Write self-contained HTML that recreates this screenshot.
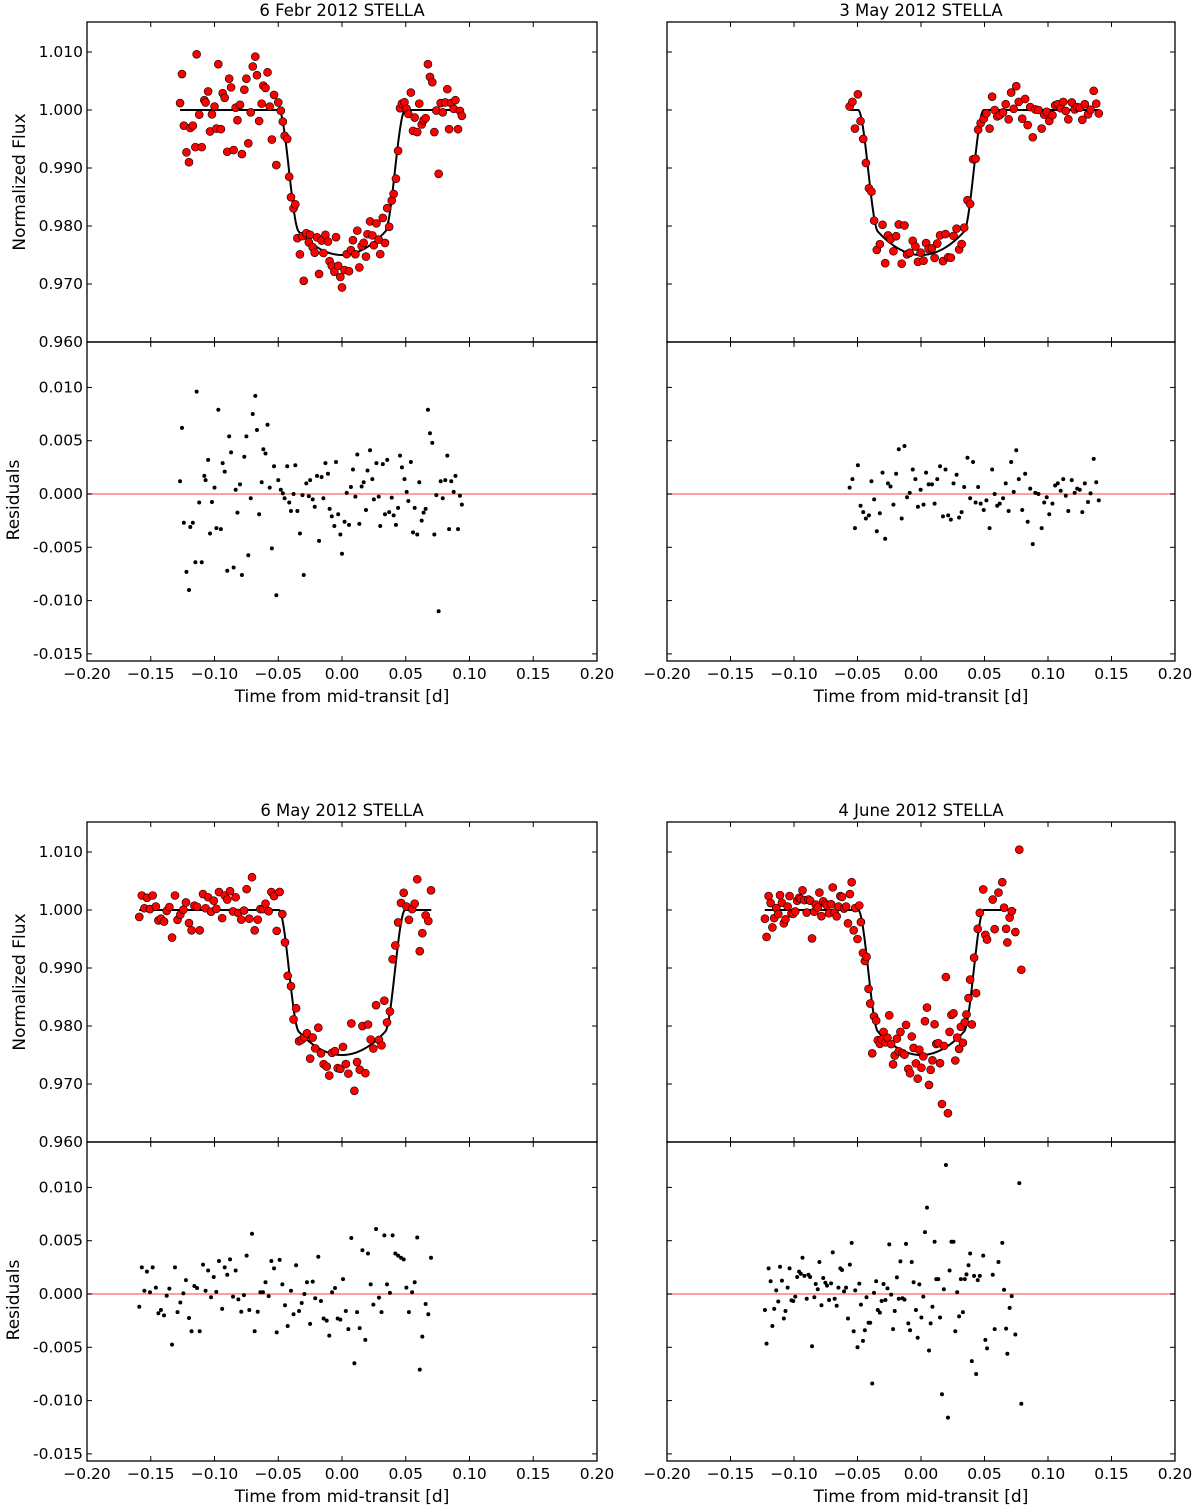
<!DOCTYPE html>
<html><head><meta charset="utf-8">
<style>
html,body{margin:0;padding:0;background:#fff;}
svg{display:block;font-family:"DejaVu Sans","Liberation Sans",sans-serif;}
</style></head>
<body>
<svg id="fig" width="1200" height="1509" viewBox="0 0 1200 1509" xmlns="http://www.w3.org/2000/svg"></svg>
<script>
// ---- data (time [d], residual in units of 0.001) ----
const titles = ["6 Febr 2012 STELLA","3 May 2012 STELLA","6 May 2012 STELLA","4 June 2012 STELLA"];
const xTicks = [-0.20,-0.15,-0.10,-0.05,0.00,0.05,0.10,0.15,0.20];
const xTickLabels = ["\u22120.20","\u22120.15","\u22120.10","\u22120.05","0.00","0.05","0.10","0.15","0.20"];
const fluxTicks = [1.010,1.000,0.990,0.980,0.970,0.960];
const fluxTickLabels = ["1.010","1.000","0.990","0.980","0.970","0.960"];
const resTicks = [0.010,0.005,0.000,-0.005,-0.010,-0.015];
const resTickLabels = ["0.010","0.005","0.000","-0.005","-0.010","-0.015"];

const tA = [-0.127,-0.1255,-0.124,-0.122,-0.120,-0.119,-0.117,-0.115,-0.114,-0.112,-0.110,-0.108,-0.107,-0.105,-0.1035,-0.102,-0.100,-0.0985,-0.097,-0.095,-0.0936,-0.092,-0.090,-0.0885,-0.087,-0.085,-0.0834,-0.082,-0.080,-0.0785,-0.0766,-0.075,-0.0735,-0.0716,-0.070,-0.068,-0.0667,-0.065,-0.063,-0.0617,-0.060,-0.0584,-0.0567,-0.055,-0.0533,-0.0515,-0.050,-0.048,-0.0464,-0.045,-0.043,-0.0414,-0.040,-0.038,-0.0366,-0.035,-0.033,-0.031,-0.030,-0.028,-0.026,-0.025,-0.023,-0.0214,-0.0196,-0.018,-0.016,-0.0146,-0.013,-0.011,-0.0097,-0.008,-0.006,-0.0047,-0.003,-0.0013,0.000,0.002,0.0037,0.0055,0.007,0.0086,0.0105,0.012,0.0136,0.0154,0.017,0.0188,0.020,0.022,0.0238,0.025,0.027,0.0288,0.030,0.032,0.0337,0.0355,0.037,0.039,0.0405,0.0423,0.044,0.0455,0.047,0.049,0.0507,0.052,0.054,0.0557,0.057,0.059,0.0606,0.0625,0.064,0.0656,0.0674,0.069,0.0708,0.0724,0.074,0.0758,0.0774,0.079,0.081,0.0826,0.084,0.0857,0.0876,0.089,0.091,0.0925,0.094];
const rA = [1.2,6.2,-2.7,-7.3,-9.0,-3.1,-2.7,-6.4,9.6,-0.8,-6.4,1.7,1.3,3.2,-3.7,-0.75,0.6,-3.2,7.9,-3.3,2.9,2.1,-7.2,5.4,3.9,-6.9,0.4,-1.75,0.9,-7.6,3.5,5.4,-5.75,-0.4,7.5,9.2,6.0,-1.9,1.1,4.2,3.8,6.5,0.6,-5.1,2.6,-9.5,1.3,0.4,0.06,-0.4,2.6,-0.8,-1.6,0,2.7,-1.6,-3.7,-0.1,-7.6,1.0,-0.2,1.3,-0.5,-1.2,1.7,-4.4,1.6,-0.4,2.9,1.9,-1.4,-2.1,-3.0,3.0,-1.9,-3.8,-5.6,-2.6,0.1,-2.9,0.66,2.3,-0.25,3.7,-2.8,0.7,1.1,-1.5,2.2,4.1,1.4,-0.5,2.9,-0.25,-3.0,2.8,-1.9,3.2,-1.7,-0.34,-2.0,-2.9,-1.3,3.6,2.5,1.4,0.2,-0.66,3.0,-3.6,-1.3,-3.8,1.1,-2.5,-1.75,-1.4,7.9,5.7,4.8,-3.8,-0.1,-11.0,1.2,-0.4,1.3,3.6,-3.3,1.2,0.2,1.7,-3.3,-0.16,-1.0];

const tB = [-0.0562,-0.054,-0.052,-0.0497,-0.0476,-0.0455,-0.0434,-0.041,-0.039,-0.0369,-0.0348,-0.0324,-0.0303,-0.0282,-0.026,-0.024,-0.0217,-0.0196,-0.0175,-0.0152,-0.013,-0.011,-0.0089,-0.0065,-0.0044,-0.0024,-0.0003,0.002,0.004,0.006,0.0086,0.0107,0.0128,0.015,0.0173,0.0193,0.0214,0.0235,0.0256,0.028,0.030,0.032,0.034,0.0366,0.0387,0.041,0.043,0.045,0.047,0.0494,0.0515,0.054,0.056,0.058,0.060,0.062,0.0646,0.0667,0.069,0.071,0.073,0.075,0.077,0.0797,0.082,0.084,0.086,0.088,0.090,0.0925,0.095,0.097,0.099,0.101,0.1035,0.1056,0.1077,0.110,0.112,0.114,0.116,0.1187,0.121,0.123,0.125,0.127,0.129,0.1315,0.1335,0.136,0.138,0.140];
const rB = [0.6,1.4,-3.2,2.7,-1.1,-1.7,-2.3,-2.0,1.2,-0.5,-3.5,-1.8,2.0,-4.2,1.0,0.7,-1.0,1.9,4.2,-2.3,4.5,-0.3,0.1,2.3,1.4,-1.2,0.4,-1.0,2.0,0.9,0.9,-0.9,1.4,2.6,-2.1,2.3,-2.0,-2.4,1.0,1.8,-2.2,-1.7,0.66,3.4,-0.4,3.0,-0.8,0.66,-0.9,-1.5,-0.6,-3.2,2.3,0,-1.1,-0.9,-0.4,1.0,-1.6,3.0,0.2,4.1,1.4,-1.5,1.9,-2.6,0.5,-4.7,0.1,0,-3.2,-0.8,-0.3,-1.9,-0.9,0.8,1.0,0.3,1.4,-0.16,-1.6,1.3,0.1,0.5,0.4,-1.7,1.0,-0.75,0.06,3.3,1.1,-0.6];

const tC = [-0.159,-0.157,-0.155,-0.153,-0.1506,-0.1485,-0.146,-0.144,-0.142,-0.1396,-0.1375,-0.1354,-0.1333,-0.131,-0.129,-0.1268,-0.1244,-0.1224,-0.120,-0.118,-0.1158,-0.1137,-0.1116,-0.109,-0.107,-0.105,-0.1027,-0.1006,-0.0986,-0.0965,-0.094,-0.092,-0.090,-0.0878,-0.0855,-0.0834,-0.0813,-0.079,-0.0769,-0.0748,-0.0727,-0.0706,-0.0685,-0.0661,-0.064,-0.062,-0.060,-0.0575,-0.0554,-0.0533,-0.0512,-0.0489,-0.0468,-0.0447,-0.0426,-0.040,-0.038,-0.036,-0.0337,-0.0316,-0.0295,-0.0275,-0.025,-0.023,-0.021,-0.0186,-0.0165,-0.0144,-0.012,-0.010,-0.0078,-0.0055,-0.0034,-0.0013,0.0008,0.003,0.005,0.0073,0.0097,0.0118,0.0139,0.016,0.0183,0.0204,0.0225,0.0246,0.0267,0.029,0.031,0.0332,0.0353,0.0376,0.0397,0.0418,0.044,0.0463,0.0484,0.0505,0.0525,0.055,0.057,0.059,0.061,0.063,0.0656,0.0677,0.0698];
const rC = [-1.2,2.5,0.3,2.1,0.16,2.5,0.6,-1.8,-1.5,-2.0,-0.16,0.5,-4.75,2.5,-1.7,-0.8,0.06,1.3,-2.25,-3.5,0.75,0.56,-3.5,2.75,0.3,2.2,-0.3,1.6,0.2,3.1,-1.4,2.5,1.8,3.25,-0.25,2.2,-0.5,-1.66,-0.1,3.6,-1.5,5.65,-3.5,-1.66,0.16,0.16,1.1,-0.2,3.1,2.4,-3.6,3.2,0.9,-1.06,-3.0,0.3,-1.9,2.7,-1.6,-0.84,0,1.1,-2.8,1.16,-0.4,3.5,-0.66,-2.3,-2.5,-3.9,0.16,0.56,-2.3,-2.4,1.4,-1.6,-3.3,5.25,-6.5,-1.7,-3.2,4.1,-4.3,3.8,0.9,-1.0,6.1,-0.34,-1.7,5.5,0.9,0.1,5.5,3.8,3.6,3.4,3.25,0.6,-1.7,0.16,1.1,5.3,-7.1,-4.0,-0.94,-1.9,3.4];

const tD = [-0.1229,-0.1216,-0.120,-0.1184,-0.117,-0.1156,-0.114,-0.1124,-0.111,-0.1095,-0.108,-0.1067,-0.105,-0.1035,-0.102,-0.1006,-0.099,-0.0975,-0.096,-0.0946,-0.0933,-0.0918,-0.090,-0.0886,-0.0873,-0.0858,-0.084,-0.0829,-0.0813,-0.080,-0.0784,-0.077,-0.0753,-0.074,-0.0724,-0.0708,-0.0695,-0.068,-0.0664,-0.065,-0.0635,-0.0622,-0.0606,-0.059,-0.0575,-0.056,-0.0546,-0.053,-0.0518,-0.050,-0.0486,-0.0473,-0.0457,-0.0442,-0.0429,-0.0413,-0.040,-0.0384,-0.037,-0.0353,-0.034,-0.0324,-0.031,-0.0295,-0.028,-0.0264,-0.025,-0.0235,-0.022,-0.0207,-0.019,-0.0175,-0.0162,-0.0146,-0.013,-0.0118,-0.010,-0.0086,-0.0073,-0.0058,-0.004,-0.0026,-0.0013,0.0003,0.0018,0.0031,0.0047,0.0063,0.0076,0.009,0.0107,0.012,0.0136,0.015,0.0165,0.018,0.0196,0.0212,0.0225,0.024,0.0256,0.027,0.0285,0.030,0.0314,0.033,0.0345,0.0358,0.0374,0.0387,0.040,0.0418,0.0434,0.0447,0.0463,0.049,0.0507,0.052,0.0565,0.058,0.061,0.064,0.0654,0.067,0.068,0.0698,0.0714,0.0743,0.0774,0.079];
const rD = [-1.5,-4.65,2.4,1.2,-3.0,-1.4,0.34,-0.7,2.56,1.25,-2.3,-1.6,0.6,2.4,-0.6,-0.66,-0.25,1.6,2.1,1.9,3.4,1.7,-0.44,1.8,1.6,-4.9,-0.3,0.94,0.44,3.0,-1.06,1.5,1.06,0.78,-0.56,1.0,3.9,-0.44,-1.1,0.6,2.4,2.25,0.25,0.6,-2.3,2.75,4.8,-3.5,0.34,-5.0,0.97,-1.0,-4.4,-3.4,-0.3,-2.7,-2.7,-8.4,0.1,1.2,-1.5,-1.75,-0.66,0.94,-0.56,0.53,4.66,-0.06,-3.3,-1.6,1.56,-0.44,3.06,-0.4,-0.53,4.7,-2.75,-3.4,3.0,1.1,-1.5,-4.1,0.9,-2.2,-0.25,5.8,8.1,-5.3,-2.75,-1.2,4.9,1.4,1.4,-2.2,-9.4,0.44,12.1,-11.6,2.2,4.9,4.9,-3.5,0.16,-2.1,1.4,-1.7,1.4,1.84,2.7,3.8,-6.3,1.7,-7.5,1.3,1.7,3.6,-4.3,-5.1,1.8,-3.3,3.0,4.8,0.4,-3.25,-5.6,-1.3,-0.2,-3.8,10.4,-10.3];

const times = [tA,tB,tC,tD];
const resids = [rA,rB,rC,rD];
// model line extents (days)
const modelStart = [-0.127,-0.056,-0.159,-0.123];
const modelEnd = [0.094,0.140,0.070,0.075];

// ---- transit model ----
function model(t){
  const a=Math.abs(t), T2=0.034, T1=0.0495, k=3.5;
  const fb=0.975+k*T2*T2;
  if(a>=T1) return 1;
  if(a<=T2) return 0.975+k*a*a;
  const s=(a-T2)/(T1-T2);
  // blend: continuous slope at bottom, rounded top
  const slope=2*k*T2*(T1-T2);
  const h=3*s*s-2*s*s*s;
  const lin=s*(1-s)*(1-s)*slope;
  return fb+(1-fb)*h+lin;
}

// ---- layout ----
const NS="http://www.w3.org/2000/svg";
const svg=document.getElementById('fig');
function el(tag,attrs,parent){const e=document.createElementNS(NS,tag);for(const k in attrs)e.setAttribute(k,attrs[k]);(parent||svg).appendChild(e);return e;}
const panels=[{x0:87,x1:597,top:22,off:0,ylab:true},{x0:667,x1:1175,top:22,off:0,ylab:false},{x0:87,x1:597,top:822,off:800,ylab:true},{x0:667,x1:1175,top:822,off:800,ylab:false}];

panels.forEach((p,i)=>{
  const g=el('g',{});
  
  
  const mid=342+p.off, bot=661+p.off, top=p.top;
  const X=t=>p.x0+(t+0.2)/0.4*(p.x1-p.x0);
  const YF=f=>110+p.off-(f-1.0)*5800;
  const YR=r=>494+p.off-r*10660;
  const cid='clipT'+i, cid2='clipR'+i;
  const defs=el('defs',{},g);
  const c1=el('clipPath',{id:cid},defs); el('rect',{x:p.x0,y:top,width:p.x1-p.x0,height:mid-top},c1);
  const c2=el('clipPath',{id:cid2},defs); el('rect',{x:p.x0,y:mid,width:p.x1-p.x0,height:bot-mid},c2);

  const tt=el('text',{x:(p.x0+p.x1)/2,y:top-6,'text-anchor':'middle','font-size':'16.5'},g);
  tt.textContent=titles[i];
  
  

  const zl=el('line',{x1:p.x0,x2:p.x1,y1:YR(0),y2:YR(0),stroke:'#ff8080','stroke-width':1.5},g);
  
  

  const gm=el('g',{'clip-path':'url(#'+cid+')'},g);
  let d='';
  for(let k=0;k<=400;k++){const t=modelStart[i]+(modelEnd[i]-modelStart[i])*k/400;d+=(k?'L':'M')+X(t).toFixed(2)+' '+YF(model(t)).toFixed(2);}
  const ml=el('path',{d:d,fill:'none',stroke:'#000','stroke-width':2},gm);
  
  

  const gf=el('g',{'clip-path':'url(#'+cid+')'},g);
  
  
  const gr=el('g',{'clip-path':'url(#'+cid2+')'},g);
  
  
  times[i].forEach((t,k)=>{
    const r=resids[i][k]*0.001;
    const c=el('circle',{cx:X(t),cy:YF(model(t)+r),r:4,fill:'#ff0000',stroke:'#000','stroke-width':0.6},gf);
    
    
    const c2e=el('circle',{cx:X(t),cy:YR(r),r:2,fill:'#000'},gr);
    
    
  });

  const f1=el('rect',{x:p.x0,y:top,width:p.x1-p.x0,height:mid-top,fill:'none',stroke:'#000','stroke-width':1.3},g);
  
  
  const f2=el('rect',{x:p.x0,y:mid,width:p.x1-p.x0,height:bot-mid,fill:'none',stroke:'#000','stroke-width':1.3},g);
  
  

  xTicks.forEach((v,k)=>{
    const x=X(v);
    [[top,1],[mid,-1],[mid,1],[bot,-1]].forEach(([y,s])=>el('line',{x1:x,x2:x,y1:y,y2:y+s*5,stroke:'#000','stroke-width':1},g));
    const lt=el('text',{x:x,y:bot+18,'text-anchor':'middle','font-size':'15.5'},g);
    lt.textContent=xTickLabels[k];
    
    
  });
  fluxTicks.forEach((v,k)=>{
    const y=YF(v);
    el('line',{x1:p.x0,x2:p.x0+5,y1:y,y2:y,stroke:'#000'},g);
    el('line',{x1:p.x1,x2:p.x1-5,y1:y,y2:y,stroke:'#000'},g);
    if(p.ylab){const lt=el('text',{x:p.x0-4,y:y+5,'text-anchor':'end','font-size':'15.5'},g);lt.textContent=fluxTickLabels[k];
      
      }
  });
  resTicks.forEach((v,k)=>{
    const y=YR(v);
    el('line',{x1:p.x0,x2:p.x0+5,y1:y,y2:y,stroke:'#000'},g);
    el('line',{x1:p.x1,x2:p.x1-5,y1:y,y2:y,stroke:'#000'},g);
    if(p.ylab){const lt=el('text',{x:p.x0-4,y:y+5,'text-anchor':'end','font-size':'15.5'},g);lt.textContent=resTickLabels[k];
      
      }
  });
  const xl=el('text',{x:(p.x0+p.x1)/2,y:bot+41,'text-anchor':'middle','font-size':'17'},g);
  xl.textContent='Time from mid-transit [d]';
  
  
  if(p.ylab){
    const yl=el('text',{x:0,y:0,'text-anchor':'middle','font-size':'17',transform:'translate(25,'+(182+p.off)+') rotate(-90)'},g);
    yl.textContent='Normalized Flux';
    
    
    const rl=el('text',{x:0,y:0,'text-anchor':'middle','font-size':'17',transform:'translate(19,'+(500+p.off)+') rotate(-90)'},g);
    rl.textContent='Residuals';
    
    
  }
});
</script>
</body></html>
